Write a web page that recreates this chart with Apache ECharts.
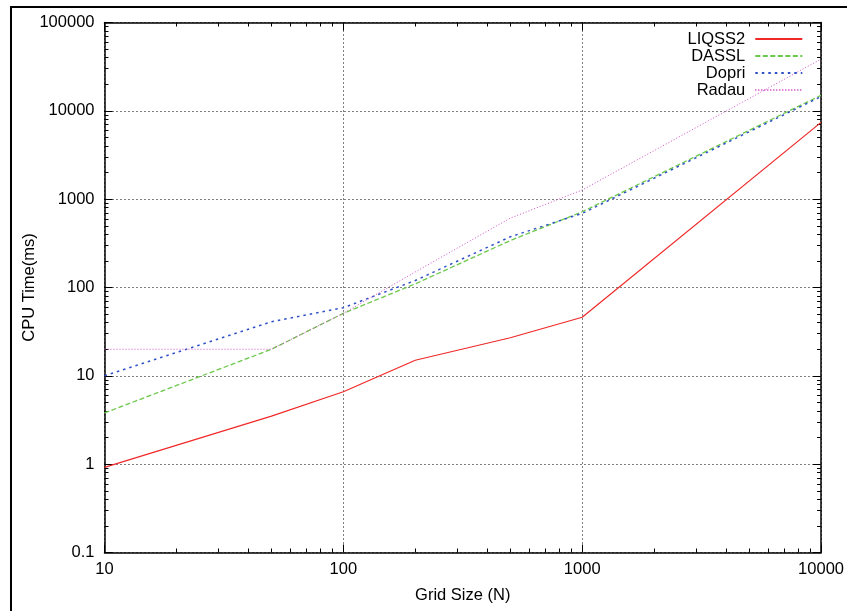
<!DOCTYPE html>
<html>
<head>
<meta charset="utf-8">
<script src="https://cdn.jsdelivr.net/npm/echarts@6/dist/echarts.min.js"></script>
<style>html,body{margin:0;padding:0;background:#fff;}#c{width:847px;height:611px;}</style>
</head>
<body>
<div id="c"></div>
<script>
const gridSizes = [10, 50, 100, 200, 500, 1000, 10000];
const liqss2 = [0.92, 3.5, 6.6, 15, 27, 46, 7400];
const dassl  = [3.8, 20, 51, 110, 340, 720, 15000];
const dopri  = [10, 41, 59, 120, 375, 690, 14500];
const radau  = [20, 20, 51, 150, 610, 1270, 38500];
const seriesNames = ['LIQSS2', 'DASSL', 'Dopri', 'Radau'];
const xTickLabels = ['10', '100', '1000', '10000'];
const yTickLabels = ['0.1', '1', '10', '100', '1000', '10000', '100000'];

const FONT = '"Liberation Sans", Arial, sans-serif';
const FS = 16.5;
const pairs = arr => gridSizes.map((x, i) => [x, arr[i]]);
const fmt = v => String(+v.toPrecision(6));

const tickStyle = { show: true, inside: true, length: 8, lineStyle: { color: '#000', width: 1 } };
const minorStyle = { show: true, splitNumber: 9, length: 4, lineStyle: { color: '#000', width: 1 } };
const axisLineStyle = { show: true, lineStyle: { color: '#000', width: 1.5 } };
const gridLineStyle = { show: true, lineStyle: { color: '#000', width: 1, type: [1, 3] } };

const chart = echarts.init(document.getElementById('c'), null, { renderer: 'canvas' });
chart.setOption({
  animation: false,
  backgroundColor: '#fff',
  textStyle: { fontFamily: FONT },
  graphic: [{
    type: 'rect', silent: true, z: -1,
    shape: { x: 11, y: 7, width: 900, height: 700 },
    style: { fill: null, stroke: '#000', lineWidth: 2 }
  }],
  grid: { left: 104.5, right: 24, top: 22.5, bottom: 58.5, containLabel: false },
  legend: {
    orient: 'vertical', align: 'right', right: 43.7, top: 30.6,
    padding: 0, itemWidth: 47, itemHeight: 14, itemGap: 0,
    itemStyle: { opacity: 0 },
    textStyle: { fontSize: FS, lineHeight: 16.8, color: '#000', fontFamily: FONT, padding: [0, 5, 0, 0] },
    data: seriesNames
  },
  xAxis: [{
    type: 'log', logBase: 10, min: 10, max: 10000, position: 'bottom',
    name: 'Grid Size (N)', nameLocation: 'middle', nameGap: 34, nameMoveOverlap: false,
    nameTextStyle: { fontSize: FS, color: '#000', fontFamily: FONT },
    axisLine: axisLineStyle, axisTick: tickStyle, minorTick: minorStyle,
    splitLine: gridLineStyle,
    axisLabel: { fontSize: FS, color: '#000', fontFamily: FONT, margin: 8,
      formatter: v => { const s = fmt(v); return xTickLabels.includes(s) ? s : ''; } }
  }, {
    type: 'log', logBase: 10, min: 10, max: 10000, position: 'top',
    axisLine: axisLineStyle, axisTick: tickStyle, minorTick: minorStyle,
    splitLine: { show: false }, axisLabel: { show: false }
  }],
  yAxis: [{
    type: 'log', logBase: 10, min: 0.1, max: 100000, position: 'left',
    name: 'CPU Time(ms)', nameLocation: 'middle', nameGap: 67, nameMoveOverlap: false,
    nameTextStyle: { fontSize: FS, color: '#000', fontFamily: FONT },
    axisLine: axisLineStyle, axisTick: tickStyle, minorTick: minorStyle,
    splitLine: gridLineStyle,
    axisLabel: { fontSize: FS, color: '#000', fontFamily: FONT, margin: 10,
      formatter: v => { const s = fmt(v); return yTickLabels.includes(s) ? s : ''; } }
  }, {
    type: 'log', logBase: 10, min: 0.1, max: 100000, position: 'right',
    axisLine: axisLineStyle, axisTick: tickStyle, minorTick: minorStyle,
    splitLine: { show: false }, axisLabel: { show: false }
  }],
  series: [
    { name: 'LIQSS2', type: 'line', data: pairs(liqss2), symbol: 'none', color: '#f02828',
      lineStyle: { width: 1.2, color: '#f02828', type: 'solid' } },
    { name: 'DASSL', type: 'line', data: pairs(dassl), symbol: 'none', color: '#6cc84a',
      lineStyle: { width: 1.3, color: '#6cc84a', type: [5, 2.5] } },
    { name: 'Dopri', type: 'line', data: pairs(dopri), symbol: 'none', color: '#3050c8',
      lineStyle: { width: 1.5, color: '#3050c8', type: [2.5, 4] } },
    { name: 'Radau', type: 'line', data: pairs(radau), symbol: 'none', color: '#d050c8',
      lineStyle: { width: 1, color: '#d050c8', type: [1, 2] } }
  ]
});
</script>
</body>
</html>
